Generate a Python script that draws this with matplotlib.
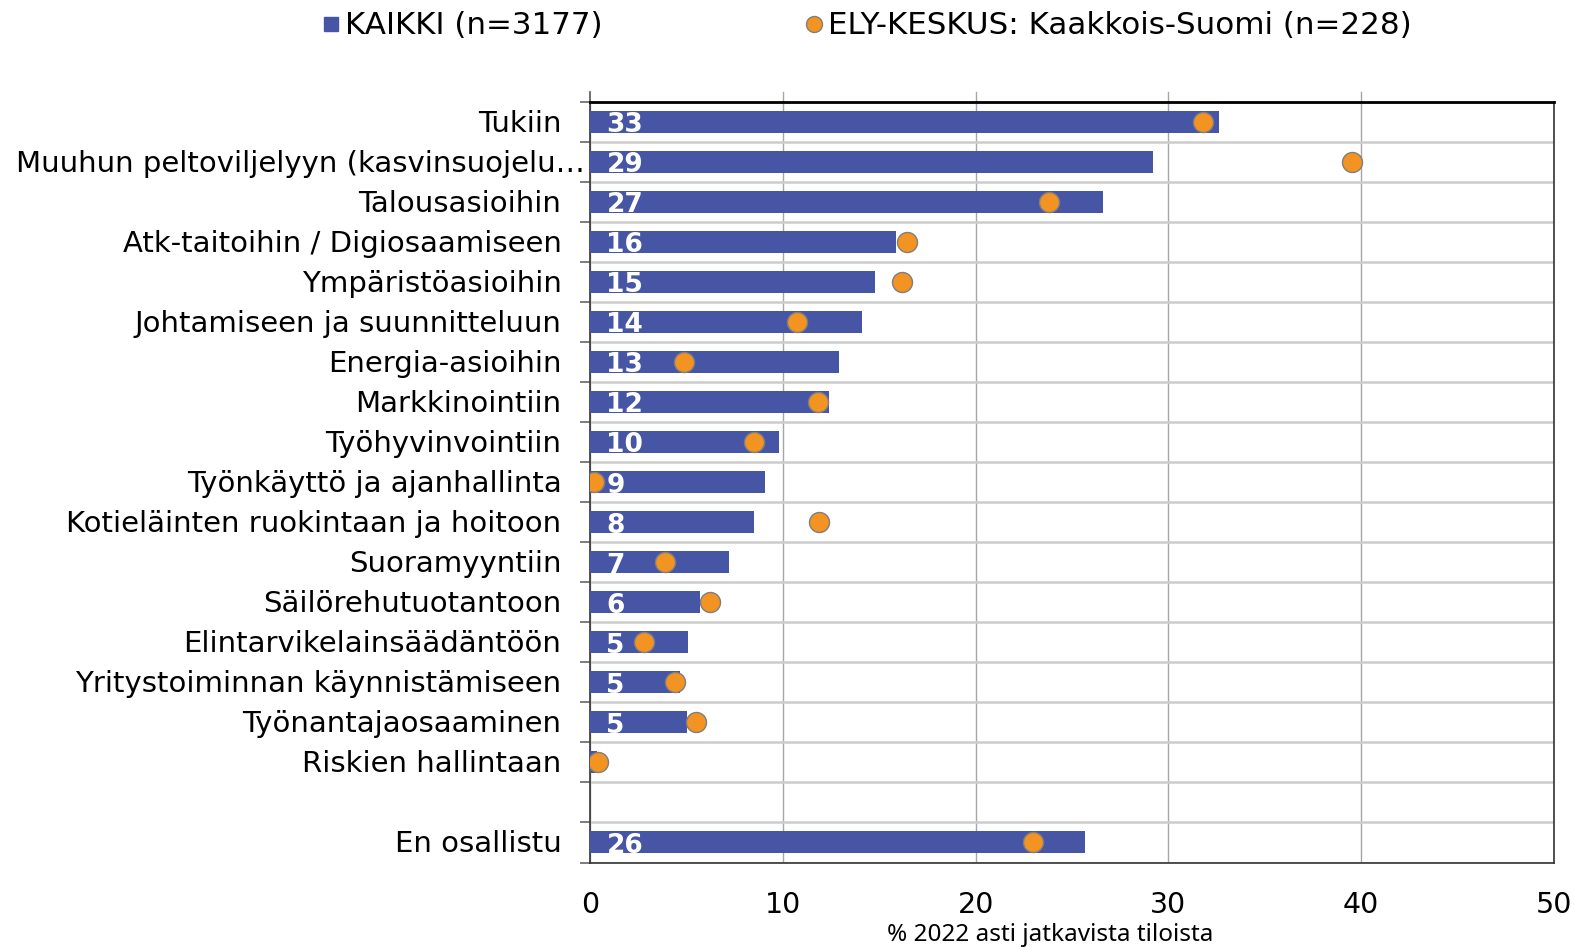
import numpy as np
import matplotlib
matplotlib.use("Agg")
import matplotlib.pyplot as plt
import matplotlib.transforms as mtransforms
from matplotlib.lines import Line2D

categories = ["Tukiin", "Muuhun peltoviljelyyn (kasvinsuojelu…", "Talousasioihin",
              "Atk-taitoihin / Digiosaamiseen", "Ympäristöasioihin",
              "Johtamiseen ja suunnitteluun", "Energia-asioihin", "Markkinointiin",
              "Työhyvinvointiin", "Työnkäyttö ja ajanhallinta",
              "Kotieläinten ruokintaan ja hoitoon", "Suoramyyntiin",
              "Säilörehutuotantoon", "Elintarvikelainsäädäntöön",
              "Yritystoiminnan käynnistämiseen", "Työnantajaosaaminen",
              "Riskien hallintaan", "", "En osallistu"]
kaikki = [32.6, 29.2, 26.6, 15.85, 14.8, 14.1, 12.9, 12.4, 9.8, 9.1, 8.5, 7.2,
          5.7, 5.1, 4.65, 5.05, 0.35, np.nan, 25.7]
ely = [31.8, 39.5, 23.8, 16.45, 16.2, 10.75, 4.9, 11.8, 8.5, 0.2, 11.9, 3.9,
       6.2, 2.8, 4.4, 5.5, 0.4, np.nan, 23.0]
legend_labels = ["KAIKKI (n=3177)", "ELY-KESKUS: Kaakkois-Suomi (n=228)"]
xlabel = "% 2022 asti jatkavista tiloista"

BLUE = "#4755A5"
ORANGE = "#F39322"
EDGE = "#7f7f7f"
W, H = 1575, 947
AX_L, AX_R, AX_T, AX_B = 590, 1554, 101.7, 862.5

fig = plt.figure(figsize=(W/100, H/100), dpi=100)
ax = fig.add_axes([AX_L/W, 1-AX_B/H, (AX_R-AX_L)/W, (AX_B-AX_T)/H])

y = np.arange(len(categories))
ax.barh(y, kaikki, height=0.55, color=BLUE, zorder=3)
ax.plot(ely, y, linestyle="none", marker="o", markersize=14.4,
        markerfacecolor=ORANGE, markeredgecolor=EDGE, markeredgewidth=1.0,
        zorder=4)

for yi, v in zip(y, kaikki):
    if np.isnan(v) or round(v) < 1:
        continue
    ax.text(0.85, yi + 0.26, f"{round(v):d}", color="white", fontweight="bold",
            fontsize=19, va="baseline", ha="left", zorder=5)

ax.set_xlim(0, 50)
ax.set_ylim(len(categories) - 0.5, -0.5)
ax.set_xticks([0, 10, 20, 30, 40, 50])
ax.set_yticks(y)
ax.set_yticklabels([])
ax.set_yticks(np.arange(-0.5, len(categories)), minor=True)
ax.tick_params(axis="y", which="major", length=0)
ax.tick_params(axis="y", which="minor", length=7.5, width=1.2, color="#666666", direction="out")
ax.tick_params(axis="x", length=0, pad=20.5, labelsize=20.5)
ax.set_xlabel(xlabel, fontsize=17.5, family="Noto Sans")
ax.xaxis.set_label_coords((1050-AX_L)/(AX_R-AX_L), -(935-AX_B)/(AX_B-AX_T))
ax.xaxis.label.set_va("center")

# category labels, right-aligned left of the axis
trans = mtransforms.blended_transform_factory(fig.transFigure, ax.transData)
cat_texts = [ax.text(561.5/W, yi + 0.25, c, transform=trans, ha="right",
                     va="baseline", fontsize=21) for yi, c in zip(y, categories)]
fig.canvas.draw()
r = fig.canvas.get_renderer()
for t in cat_texts:
    bb = t.get_window_extent(r)
    if bb.x0 < 16:
        t.set_ha("left")
        t.set_x(16/W)

ax.grid(axis="y", which="minor", color="#cccccc", linewidth=1.8, zorder=0)
ax.grid(axis="x", which="major", color="#a6a6a6", linewidth=1.0, zorder=0)
ax.set_axisbelow(True)

# short extensions of the vertical grid above the top frame
ext = 10 / ((AX_B - AX_T) / len(categories))
for xv in ax.get_xticks()[1:-1]:
    ax.plot([xv, xv], [-0.5, -0.5 - ext], color="#a6a6a6", linewidth=1.0,
            clip_on=False, zorder=0)
ax.plot([0, 0], [-0.5, -0.5 - ext], color="#555555", linewidth=1.2, clip_on=False)

ax.spines["top"].set_linewidth(2.0)
ax.spines["top"].set_color("black")
for s in ["left", "bottom", "right"]:
    ax.spines[s].set_linewidth(1.2)
    ax.spines[s].set_color("#333333")

h1 = Line2D([], [], linestyle="none", marker="s", markersize=10.5,
            markerfacecolor=BLUE, markeredgecolor=BLUE)
h2 = Line2D([], [], linestyle="none", marker="o", markersize=11.5,
            markerfacecolor=ORANGE, markeredgecolor=EDGE)
for h, lab, x0 in [(h1, legend_labels[0], 323), (h2, legend_labels[1], 806)]:
    fig.legend([h], [lab], loc="center left", bbox_to_anchor=(x0/W, 1-26/H),
               frameon=False, fontsize=22.3, handlelength=0.5,
               handletextpad=0.2, borderpad=0, borderaxespad=0)

fig.savefig("out.png", dpi=100)
